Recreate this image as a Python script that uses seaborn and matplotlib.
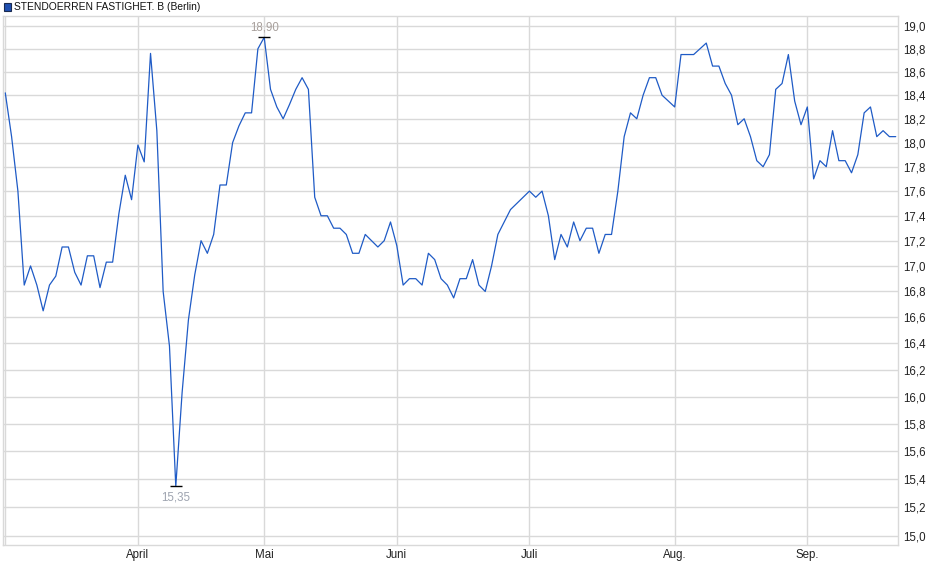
import numpy as np
import pandas as pd
import seaborn as sns
import matplotlib
matplotlib.use("Agg")
import matplotlib.pyplot as plt
from matplotlib.ticker import FuncFormatter, NullLocator, FixedLocator
from matplotlib.patches import Rectangle

# daily closing prices (trading days)
prices = [
    18.42, 18.05, 17.60, 16.85, 17.00, 16.85, 16.65, 16.85, 16.92, 17.15,
    17.15, 16.95, 16.85, 17.08, 17.08, 16.83, 17.03, 17.03, 17.42, 17.73,
    17.53, 17.98, 17.84, 18.76, 18.10, 16.80, 16.38, 15.35, 16.03, 16.58,
    16.93, 17.20, 17.10, 17.25, 17.65, 17.65, 18.00, 18.14, 18.25, 18.25,
    18.80, 18.90, 18.45, 18.30, 18.20, 18.32, 18.45, 18.55, 18.45, 17.55,
    17.40, 17.40, 17.30, 17.30, 17.25, 17.10, 17.10, 17.25, 17.20, 17.15,
    17.20, 17.35, 17.16, 16.85, 16.90, 16.90, 16.85, 17.10, 17.05, 16.90,
    16.85, 16.75, 16.90, 16.90, 17.05, 16.85, 16.80, 17.00, 17.25, 17.35,
    17.45, 17.50, 17.55, 17.60, 17.55, 17.60, 17.40, 17.05, 17.25, 17.15,
    17.35, 17.20, 17.30, 17.30, 17.10, 17.25, 17.25, 17.60, 18.05, 18.25,
    18.20, 18.40, 18.55, 18.55, 18.40, 18.35, 18.30, 18.75, 18.75, 18.75,
    18.80, 18.85, 18.65, 18.65, 18.50, 18.40, 18.15, 18.20, 18.05, 17.85,
    17.80, 17.90, 18.45, 18.50, 18.75, 18.35, 18.15, 18.30, 17.70, 17.85,
    17.80, 18.10, 17.85, 17.85, 17.75, 17.90, 18.25, 18.30, 18.05, 18.10,
    18.05, 18.05,
]

# index of the first trading day of each month
month_start = [21, 41, 62, 83, 106, 127]
month_labels = ["April", "Mai", "Juni", "Juli", "Aug.", "Sep."]

y_ticks = [15.0, 15.2, 15.4, 15.6, 15.8, 16.0, 16.2, 16.4, 16.6, 16.8, 17.0,
           17.2, 17.4, 17.6, 17.8, 18.0, 18.2, 18.4, 18.6, 18.8, 19.0]

title = "STENDOERREN FASTIGHET. B (Berlin)"

df = pd.DataFrame({"day": np.arange(len(prices)), "close": prices})

sns.set_style("white")
plt.rcParams["font.family"] = ["Liberation Sans", "DejaVu Sans"]

fig = plt.figure(figsize=(9.4, 5.79), dpi=100)
ax = fig.add_axes([3 / 940, 1 - 545 / 579, 895 / 940, 529 / 579])

grid_c = "#d9d9d9"
line_c = "#1f5bc6"

sns.lineplot(data=df, x="day", y="close", ax=ax, color=line_c, linewidth=0.9)

ax.set_yscale("log")
ax.set_ylim(14.9375, 19.088)
ax.set_xlim(-0.36, len(prices) - 1 + 0.36)

ax.yaxis.set_major_locator(FixedLocator(y_ticks))
ax.yaxis.set_minor_locator(NullLocator())
ax.yaxis.set_major_formatter(FuncFormatter(lambda v, p: f"{v:.1f}".replace(".", ",")))
ax.yaxis.tick_right()

ax.set_xticks([0] + month_start)
ax.set_xticklabels([""] + month_labels)

ax.grid(True, color=grid_c, linewidth=1)
ax.set_axisbelow(True)
for s in ax.spines.values():
    s.set_color(grid_c)
    s.set_linewidth(1)

ax.tick_params(axis="y", length=0, pad=4, labelsize=8.3, labelcolor="#222222")
ax.tick_params(axis="x", length=0, pad=3, labelsize=8.3, labelcolor="#222222")
ax.set_xlabel("")
ax.set_ylabel("")

# max / min markers
i_max = int(np.argmax(prices))
i_min = int(np.argmin(prices))
ax.plot([i_max], [prices[i_max]], marker="_", color="black", markersize=9, markeredgewidth=1)
ax.plot([i_min], [prices[i_min]], marker="_", color="black", markersize=9, markeredgewidth=1)
ax.annotate(f"{prices[i_max]:.2f}".replace(".", ","), (i_max, prices[i_max]),
            xytext=(0, 2.5), textcoords="offset points", ha="center", va="bottom",
            fontsize=8.3, color="#a8a09c")
ax.annotate(f"{prices[i_min]:.2f}".replace(".", ","), (i_min, prices[i_min]),
            xytext=(0, -3.5), textcoords="offset points", ha="center", va="top",
            fontsize=8.3, color="#9ea4b0")

# legend-like header
fig.patches.append(Rectangle((3.5 / 940, 1 - 10.5 / 579), 7 / 940, 7 / 579,
                             transform=fig.transFigure, facecolor="#1f4fb0",
                             edgecolor="#1a2a50", linewidth=0.8))
fig.text(14.5 / 940, 1 - 7 / 579, title, fontsize=7.4, va="center", ha="left", color="#111111")

fig.savefig("out.png", dpi=100)
